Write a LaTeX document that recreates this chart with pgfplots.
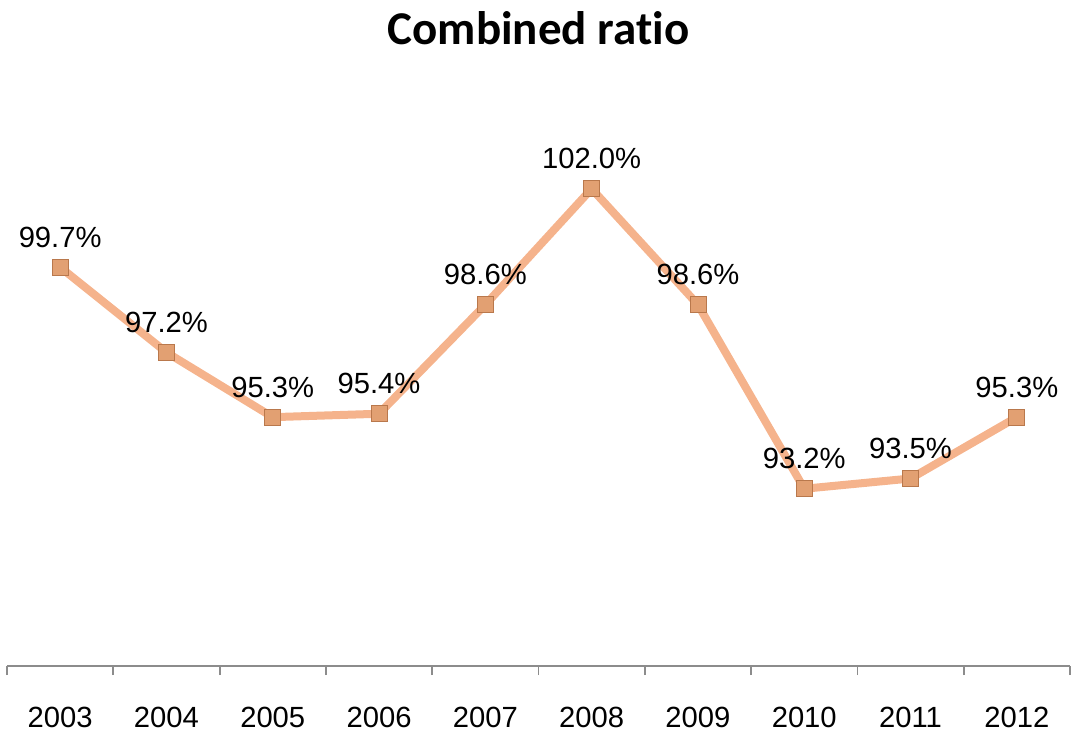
\documentclass[border=0pt]{standalone}
\usepackage{pgfplots}
\pgfplotsset{compat=1.18}
\usepackage{fontspec}
\setmainfont{Liberation Sans}
\newfontfamily\titlefont[Ligatures=NoCommon]{Carlito}
\definecolor{lineorange}{HTML}{F5B38C}
\definecolor{markfill}{HTML}{E2A072}
\definecolor{markedge}{HTML}{B9784C}
\definecolor{axisgray}{HTML}{8C8C8C}

\pgfplotstableread{
x year ratio
0 2003 99.7
1 2004 97.2
2 2005 95.3
3 2006 95.4
4 2007 98.6
5 2008 102.0
6 2009 98.6
7 2010 93.2
8 2011 93.5
9 2012 95.3
}\ratios

\begin{document}
\begin{tikzpicture}
\begin{axis}[
  at={(0pt,0pt)}, anchor=south west,
  scale only axis,
  width=531.5pt, height=272.7pt,
  xmin=-0.5, xmax=9.5,
  ymin=88, ymax=104,
  axis y line=none,
  axis x line*=bottom,
  x axis line style={draw=axisgray, line width=0.9pt, -},
  xtick={0,...,9},
  xticklabels={2003,2004,2005,2006,2007,2008,2009,2010,2011,2012},
  major tick length=0pt,
  minor xtick={-0.5,0.5,...,9.5},
  minor tick length=4.5pt,
  tick align=outside,
  minor tick style={draw=axisgray, line width=0.9pt},
  xticklabel style={font=\fontsize{14.6}{16}\selectfont, anchor=base, yshift=-30.5pt, inner sep=0pt},
  title={\titlefont\bfseries\fontsize{23.5}{26}\selectfont Combined ratio},
  title style={at={(0.5,1)}, anchor=center, yshift=40.3pt},
  clip=false,
  /pgf/number format/assume math mode=true,
  nodes near coords={\pgfmathprintnumber[fixed,fixed zerofill,precision=1,assume math mode=true]{\pgfplotspointmeta}\%},
  point meta=explicit,
  nodes near coords style={font=\fontsize{14.6}{16}\selectfont, anchor=base, yshift=10pt, inner sep=0pt, text=black},
]
\addplot[color=lineorange, line width=4pt, mark=square*, mark size=4pt,
  mark options={fill=markfill, draw=markedge, line width=0.4pt}]
  table[x=x, y=ratio, meta=ratio] {\ratios};
\end{axis}
\pgfresetboundingbox
\useasboundingbox (-3.5pt,-39pt) rectangle (534.5pt,333pt);
\end{tikzpicture}
\end{document}
